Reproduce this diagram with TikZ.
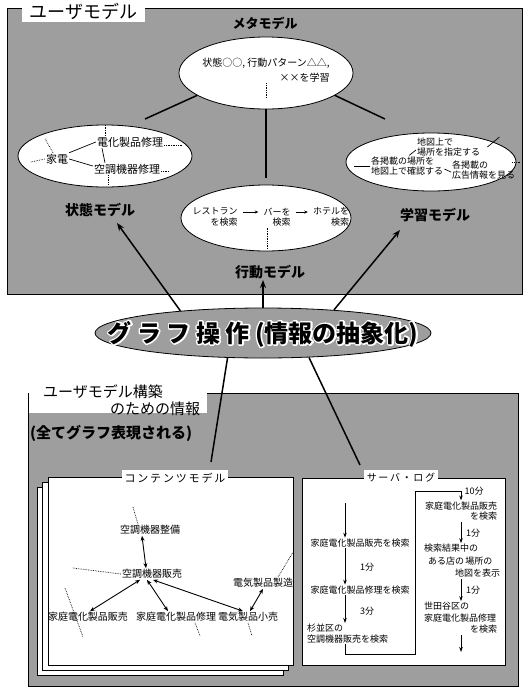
\documentclass[tikz,border=0pt]{standalone}
\usepackage{fontspec}
\setmainfont{Noto Sans CJK JP}
\usetikzlibrary{arrows.meta,shapes.geometric}
\begin{document}
\begin{tikzpicture}[x=1pt,y=-1pt,
  shaded/.style={fill=black!38},
  oval/.style={ellipse,draw,fill=white,line width=0.8pt,inner sep=0pt},
  conn/.style={line width=1.5pt},
  arr/.style={line width=1.5pt,-{Stealth[length=8pt,width=6pt]}},
  darr/.style={line width=0.9pt,{Stealth[length=5pt,width=4pt]}-{Stealth[length=5pt,width=4pt]}},
  larr/.style={line width=0.8pt,-{Stealth[length=5pt,width=3.5pt]}},
  sarr/.style={line width=0.6pt,-{Stealth[length=3.5pt,width=3pt]},shorten <=4pt,shorten >=4pt},
  dot/.style={densely dotted,line width=0.7pt},
  thinline/.style={line width=0.7pt},
  lbl/.style={font=\bfseries\fontsize{14}{16}\selectfont,inner sep=1pt},
  sm/.style={font=\fontsize{9}{10.5}\selectfont,inner sep=1pt},
  md/.style={font=\fontsize{10}{12}\selectfont,inner sep=1pt},
  gtxt/.style={font=\bfseries\fontsize{24}{26}\selectfont,inner sep=0pt},
]
\path[use as bounding box] (0,0) rectangle (528,691);

% ---------- top box: user model ----------
\draw[shaded,line width=0.8pt] (7,8) rectangle (522,294);
\node[fill=white,inner sep=0pt,minimum width=123pt,minimum height=22pt,anchor=north west,
      font=\fontsize{18}{20}\selectfont] (umodel) at (22,0) {ユーザモデル};
\node[lbl,font=\bfseries\fontsize{13}{15}\selectfont] (metalbl) at (265,23) {メタモデル};

\node[oval,minimum width=174pt,minimum height=72pt] (meta) at (266,73) {};
\node[md,align=right,font=\fontsize{10}{15}\selectfont] (metatxt) at (266,70) {状態○○, 行動パターン△△,\\××を学習};
\draw[dot] (metatxt.south) -- ++(0,14);

\node[oval,minimum width=174pt,minimum height=62pt] (state) at (105,156) {};
\node[oval,minimum width=170pt,minimum height=58pt] (learn) at (431,162) {};
\node[oval,minimum width=170pt,minimum height=66pt] (action) at (266,218) {};

\coordinate (mlend) at (145,119);
\coordinate (mrend) at (385,119);
\coordinate (mcend) at (266,178);
\draw[conn] (meta.198) -- (mlend);
\draw[conn] (meta.-18) -- (mrend);
\draw[conn] (meta.south) -- (mcend);

% state ellipse content
\node[md,font=\fontsize{11}{13}\selectfont] (kaden) at (57,159) {家電};
\node[md,font=\fontsize{11}{13}\selectfont] (denka) at (130,142) {電化製品修理};
\node[md,font=\fontsize{11}{13}\selectfont] (kucho) at (127,169) {空調機器修理};
\draw[thinline] (kaden.north east) -- (denka.west);
\draw[thinline] (kaden.east) -- ([yshift=3pt]kucho.west);
\draw[thinline] ([xshift=-28pt]denka.south) -- ([xshift=-22pt]kucho.north);
\draw[dot] ([yshift=-3pt]denka.east) -- ++(18,0);
\draw[dot] ([yshift=-2pt]kucho.east) -- ++(7,0);
\draw[dot] (kaden.west) -- ++(-14,3);
\draw[dot] ([xshift=-4pt]kaden.north) -- ++(-8,-14);
\draw[dot] ([xshift=-25pt]denka.north) -- ++(0,-11);
\draw[dot] ([xshift=-19pt]kucho.south) -- ++(0,10);

% learn ellipse content
\node[sm,align=left,anchor=west] (n1) at (416,147) {地図上で\\場所を指定する};
\node[sm,align=left,anchor=west] (n2) at (370,166) {各掲載の場所を\\地図上で確認する};
\node[sm,align=left,anchor=west] (n3) at (451,170) {各掲載の\\広告情報を見る};
\draw[thinline] ([xshift=2pt]n2.north) -- ([yshift=-3pt]n1.west);
\draw[thinline] ([yshift=-3pt]n2.east) -- ([yshift=-2pt]n3.west);
\draw[thinline] (n2.west) -- ++(-16,0);
\draw[thinline] ([xshift=6pt]n1.east) -- ++(12,-10);
\draw[dot] ([xshift=-4pt]learn.east) -- ++(8,0);

% action ellipse content
\node[sm,align=right] (a1) at (215,217) {レストラン\\を検索};
\node[sm,align=right] (a2) at (277,217) {バーを\\検索};
\node[sm,align=right] (a3) at (331,217) {ホテルを\\検索};
\draw[sarr] ([yshift=5pt]a1.east) -- ([yshift=5pt]a2.west);
\draw[sarr] ([yshift=5pt]a2.east) -- ([yshift=5pt]a3.west);
\draw[dot] ([xshift=-10pt]a2.south) -- ++(0,21);

\node[lbl] (statelbl) at (100,210) {状態モデル};
\node[lbl] (learnlbl) at (435,215) {学習モデル};
\node[lbl] (actlbl) at (270,272) {行動モデル};

% ---------- bottom box ----------
\draw[shaded,line width=0.8pt] (28,393) rectangle (518,686);
\fill[white] (29,385) rectangle (207,413);
\node[font=\fontsize{15}{17}\selectfont,align=left,text width=175pt,anchor=west,inner sep=0pt] (ubuild) at (43,400)
  {ユーザモデル構築\\\hspace*{67pt}のための情報};
\node[font=\bfseries\fontsize{15}{17}\selectfont,anchor=west,inner sep=0pt] (allgraph) at (30,433) {(全てグラフ表現される)};

% content model pages
\draw[fill=white,thinline] (37,487) rectangle (283,675);
\draw[fill=white,thinline] (42,482) rectangle (288,670);
\draw[fill=white,thinline] (48,477) rectangle (293,665);
\node[md,fill=white,inner sep=3pt,font=\fontsize{11}{13}\selectfont] (cmlbl) at (175,478) {コ\,ン\,テ\,ン\,ツ\,モ\,デ\,ル};

\node[md] (seibi) at (150,530) {空調機器整備};
\node[md] (hanbai) at (152,574) {空調機器販売};
\node[md] (seizo) at (263,583) {電気製品製造};
\node[md] (kh) at (88,617) {家庭電化製品販売};
\node[md] (ks) at (176,617) {家庭電化製品修理};
\node[md] (kouri) at (248,617) {電気製品小売};
\draw[darr] ([xshift=-8pt]seibi.south) -- ([xshift=-6pt]hanbai.north);
\draw[darr] ([xshift=-12pt]hanbai.south) -- ([xshift=2pt]kh.north);
\draw[darr] ([xshift=-5pt]hanbai.south) -- ([xshift=-8pt]ks.north);
\draw[darr] ([xshift=1pt]hanbai.south) -- ([xshift=-5pt]kouri.north);
\draw[darr] (seizo.south) -- ([xshift=2pt]kouri.north);
\draw[dot] ([xshift=-12pt]seibi.north) -- ++(-5,-17);
\draw[dot] (hanbai.west) -- ++(-48,-6);
\draw[dot] ([xshift=-23pt,yshift=29pt]kh.center) -- ([xshift=-5pt,yshift=-20pt]kh.center);
\draw[dot] ([xshift=19pt]ks.south) -- ++(5,13);
\draw[dot] (kouri.south) -- ++(4,13);
\draw[dot] ([xshift=15pt]seizo.north) -- ++(15,-25);

% server log
\draw[fill=white,thinline] (302,478) rectangle (505,665);
\node[md,fill=white,inner sep=3pt] (sllbl) at (401,478) {サ\,ー\,バ\,・\,ロ\,グ};

\node[sm] (L1) at (360,543) {家庭電化製品販売を検索};
\node[sm] (L2) at (360,590) {家庭電化製品修理を検索};
\node[sm,align=left,anchor=north west] (L3) at (306,623) {杉並区の\\空調機器販売を検索};
\coordinate (Ltop) at (345,503);
\draw[larr] (Ltop) -- ([xshift=-15pt]L1.north);
\draw[larr] ([xshift=-15pt]L1.south) -- ([xshift=-15pt]L2.north);
\node[sm] (m1) at (367,567) {1分};
\draw[larr] ([xshift=-15pt]L2.south) -- ([xshift=-15pt]L2.south |- L3.north);
\node[sm] (m3) at (367,611) {3分};

\node[sm,align=right] (R1) at (461,511) {家庭電化製品販売\\を検索};
\node[sm,text width=80pt,align=left,font=\fontsize{9}{12.5}\selectfont] (R2) at (464,561)
  {検索結果中の\\\hspace*{4pt}ある店の\,場所の\\\hspace*{31pt}地図を表示};
\node[sm,text width=80pt,align=left,font=\fontsize{9}{11.5}\selectfont] (R3) at (464,618)
  {世田谷区の\\家庭電化製品修理\\\hspace*{46pt}を検索};
\coordinate (b1) at (345,654);
\coordinate (b2) at (415,491);
\draw[larr] (L3.south -| b1) -- (b1) -| (b2) -| (R1.north);
\node[sm] (m10) at (474,491) {10分};
\draw[larr] (R1.south) -- (R1.south |- R2.north);
\node[sm] (m1b) at (473,533) {1分};
\draw[larr] (R1.south |- R2.south) -- (R1.south |- R3.north);
\node[sm] (m1c) at (473,590) {1分};
\coordinate (Rend) at (461,652);
\draw[larr] (R1.south |- R3.south) -- (Rend);

% ---------- graph operation ----------
\node[ellipse,draw,shaded,line width=0.8pt,minimum width=336pt,minimum height=50pt,inner sep=0pt] (graph) at (263,333) {};
\node[gtxt] (ghalo) at (263,334) {\special{pdf:literal direct 1 Tr 3 w 1 1 1 RG 1 j}グ ラ フ 操 作 (情報の抽象化)\special{pdf:literal direct 0 Tr}};
\node[gtxt] (gtext) at (263,334) {グ ラ フ 操 作 (情報の抽象化)};

\coordinate (stTip) at (117,223);
\coordinate (lnTip) at (400,230);
\coordinate (acTip) at (263,280);
\draw[arr] (graph.165) -- (stTip);
\draw[arr] (graph.18) -- (lnTip);
\draw[arr] (graph.north) -- (acTip);
\coordinate (cmEnd) at (211,462);
\coordinate (slEnd) at (360,465);
\draw[conn] (graph.215) -- (cmEnd);
\draw[conn] (graph.-28) -- (slEnd);
\end{tikzpicture}
\end{document}
